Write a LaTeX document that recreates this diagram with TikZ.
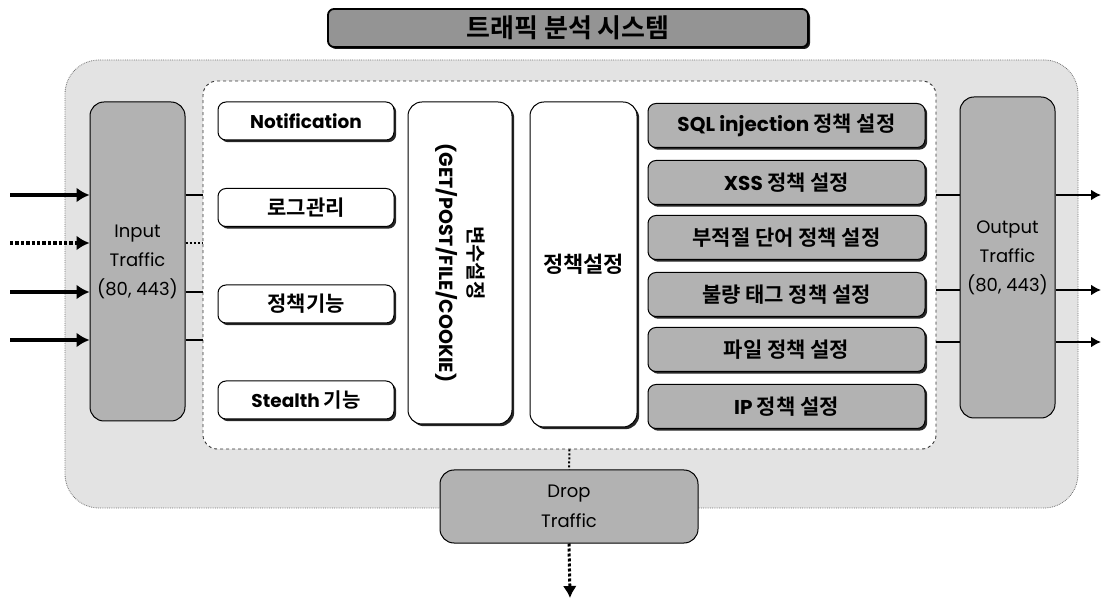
\documentclass[tikz,border=0pt]{standalone}
\usepackage{fontspec}
\setmainfont{Poppins}
\newfontfamily\kr{Noto Sans CJK KR}[BoldFont={Noto Sans CJK KR Bold}]
\usetikzlibrary{arrows.meta,shadows}
\begin{document}
\begin{tikzpicture}[x=1pt,y=-1pt,
  outerbox/.style={draw=black!55, densely dotted, line width=0.8pt, fill=black!11, rounded corners=34pt},
  innerbox/.style={draw=black!80, dashed, line width=0.9pt, fill=white, rounded corners=14pt},
  sbox/.style={draw=black, line width=1pt, rounded corners=8pt,
     drop shadow={shadow xshift=2.2pt, shadow yshift=-2.2pt, opacity=0.85, fill=black}},
  wbox/.style={sbox, fill=white, minimum width=176pt, minimum height=38pt, inner sep=0pt,
     font=\fontsize{18.5}{20}\selectfont\bfseries},
  krw/.style={font=\kr\fontsize{21}{23}\selectfont\bfseries},
  colbox/.style={sbox, fill=white, rounded corners=14pt, inner sep=0pt},
  gbox/.style={sbox, fill=black!30, minimum width=277pt, minimum height=44pt, inner sep=0pt,
     font=\fontsize{20}{22}\selectfont\bfseries},
  krg/.style={font=\kr\fontsize{21}{23}\selectfont\bfseries},
  trafbox/.style={draw=black, line width=1pt, fill=black!30, rounded corners=14pt, inner sep=0pt,
     align=center, font=\fontsize{18}{29}\selectfont},
  arr/.style={line width=3.4pt, -{Latex[length=13pt,width=15pt]}},
  stub/.style={line width=2.2pt},
]
\useasboundingbox (0,0) rectangle (1101,601);
% outer and inner frames
\node[outerbox, minimum width=1013pt, minimum height=448pt] (outer) at (571.5,284) {};
\node[innerbox, minimum width=733pt, minimum height=368pt] (inner) at (569.5,265) {};
% title
\node[draw=black, line width=1.8pt, fill=black!42, rounded corners=6pt,
      drop shadow={shadow xshift=2pt, shadow yshift=-2pt, opacity=0.9, fill=black},
      minimum width=480pt, minimum height=38pt, inner sep=0pt,
      font=\kr\fontsize{26}{28}\selectfont\bfseries] (title) at (568,28) {트래픽 분석 시스템};
% input / output traffic
\node[trafbox, minimum width=95pt, minimum height=319pt] (inp) at (137.5,261.5) {Input\\Traffic\\(80, 443)};
\node[trafbox, minimum width=95pt, minimum height=321pt] (outp) at (1007.5,257.5) {Output\\Traffic\\(80, 443)};
% left column
\node[wbox] (noti) at (306,121) {Notification};
\node[wbox, krw] (log) at (306,207.5) {로그관리};
\node[wbox, krw] (func) at (306,304) {정책기능};
\node[wbox] (stealth) at (306,400) {Stealth {\kr\fontsize{20}{22}\selectfont 기능}};
% middle columns
\node[colbox, minimum width=104pt, minimum height=322pt] (var) at (460,263) {};
\node[rotate=-90, align=center, font=\fontsize{19}{29}\selectfont\bfseries] (vartext) at (var.center)
   {{\kr\fontsize{20}{22}\selectfont 변수설정}\\(GET/POST/FILE/COOKIE)};
\node[colbox, minimum width=107pt, minimum height=325pt, font=\kr\fontsize{22}{24}\selectfont\bfseries] (pol) at (583.5,264.5) {정책설정};
% right column
\node[gbox] (sql) at (786.5,125.5) {SQL injection {\kr\fontsize{21}{23}\selectfont 정책 설정}};
\node[gbox] (xss) at (786.5,182.5) {XSS {\kr\fontsize{21}{23}\selectfont 정책 설정}};
\node[gbox, krg] (word) at (786.5,237.5) {부적절 단어 정책 설정};
\node[gbox, krg] (tag) at (786.5,294.5) {불량 태그 정책 설정};
\node[gbox, krg] (file) at (786.5,349.5) {파일 정책 설정};
\node[gbox] (ip) at (786.5,406.5) {IP {\kr\fontsize{21}{23}\selectfont 정책 설정}};
% drop traffic
\node[trafbox, minimum width=258pt, minimum height=73pt, font=\fontsize{18}{30}\selectfont] (drop) at (569,506.5) {Drop\\Traffic};
% input arrows
\coordinate (i1) at (10,195);
\coordinate (i2) at (10,243);
\coordinate (i3) at (10,292);
\coordinate (i4) at (10,340);
\draw[arr] (i1) -- (inp.west |- i1);
\draw[arr, dotted] (i2) -- (inp.west |- i2);
\draw[arr] (i3) -- (inp.west |- i3);
\draw[arr] (i4) -- (inp.west |- i4);
\draw[stub] (inp.east |- i1) -- (inner.west |- i1);
\draw[stub, dotted] (inp.east |- i2) -- (inner.west |- i2);
\draw[stub] (inp.east |- i3) -- (inner.west |- i3);
\draw[stub] (inp.east |- i4) -- (inner.west |- i4);
% output arrows
\coordinate (o1) at (1101,195);
\coordinate (o2) at (1101,290);
\coordinate (o3) at (1101,342);
\draw[stub] (inner.east |- o1) -- (outp.west |- o1);
\draw[stub, line width=1.4pt] (inner.east |- o2) -- (outp.west |- o2);
\draw[stub] (inner.east |- o3) -- (outp.west |- o3);
\draw[line width=2.6pt, -{Latex[length=10pt,width=11pt]}] (outp.east |- o1) -- (o1);
\draw[line width=2.2pt, -{Latex[length=10pt,width=11pt]}] (outp.east |- o2) -- (o2);
\draw[line width=2.6pt, -{Latex[length=10pt,width=11pt]}] (outp.east |- o3) -- (o3);
% drop path
\coordinate (dend) at (570,598);
\draw[line width=2pt, dotted] (inner.south) -- (drop.north);
\draw[line width=3pt, dotted, -{Latex[length=12pt,width=14pt]}] (drop.south) -- (dend);
\end{tikzpicture}
\end{document}
